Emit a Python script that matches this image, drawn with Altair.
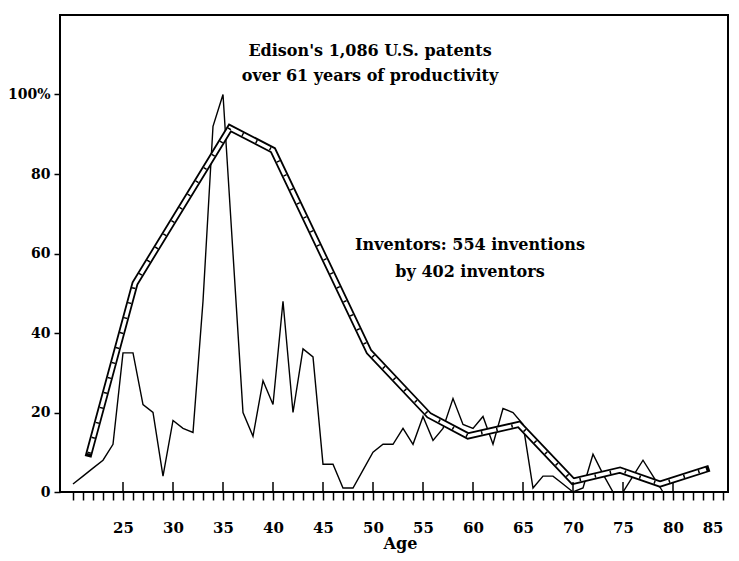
import altair as alt
import pandas as pd

# ---- data ----
inventor_age = list(range(20, 80))
inventor_pct = [2, 4, 6, 8, 12,
                35, 35, 22, 20, 4,
                18, 16, 15, 48, 92,
                100, 60, 20, 14, 28,
                22, 48, 20, 36, 34,
                7, 7, 1, 1, 5.5,
                10, 12, 12, 16, 12,
                19, 13, 16, 23.5, 17,
                16, 19, 12, 21, 20,
                17, 1, 4, 4, 2,
                0, 1, 9.5, 4.5, 0,
                0, 4, 8, 4, 0]

edison_age = [21.6, 26.2, 35.7, 40.0, 49.6, 55.6, 59.5, 64.6, 70.0, 74.7, 78.7, 83.3]
edison_pct = [9.7, 52.5, 91.6, 86.0, 35.3, 19.3, 14.1, 17.0, 2.7, 5.5, 2.0, 5.7]

year_ticks = list(range(20, 86))
major_ticks = list(range(25, 85, 5))
y_ticks = [0, 20, 40, 60, 80, 100]

edison_note = ["Edison's 1,086 U.S. patents", "over 61 years of productivity"]
inventor_note = ["Inventors: 554 inventions", "by 402 inventors"]

W, H = 668, 477
FONT = "DejaVu Serif"

inv = pd.DataFrame({"age": inventor_age, "pct": inventor_pct})
edi = pd.DataFrame({"age": edison_age, "pct": edison_pct})
maj = pd.DataFrame({"age": major_ticks, "pct": [0] * len(major_ticks)})

x_axis = alt.Axis(
    values=year_ticks,
    labelExpr="datum.value % 5 == 0 && datum.value > 20 ? datum.value : ''",
    labelAlign=alt.condition("datum.value == 85", alt.value("right"), alt.value("center")),
    tickSize=8, tickWidth=1.5, tickColor="black",
    domain=False, grid=False,
    labelPadding=20, labelFont=FONT, labelFontSize=15, labelFontWeight="bold",
    labelColor="black", labelOverlap=False, labelFlush=False,
    title="Age", titleFont=FONT, titleFontSize=16, titleFontWeight="bold",
    titleColor="black", titleX=340, titleY=51, titleBaseline="middle",
)
y_axis = alt.Axis(
    values=y_ticks,
    labelExpr="datum.value == 100 ? '100%' : datum.value",
    tickSize=6, tickWidth=1.5, tickColor="black",
    domain=False, grid=False,
    labelPadding=4, labelFont=FONT, labelFontSize=14, labelFontWeight="bold",
    labelColor="black", title=None,
)

X = alt.X("age:Q", scale=alt.Scale(domain=[18.7, 85.5], nice=False, zero=False), axis=x_axis)
Y = alt.Y("pct:Q", scale=alt.Scale(domain=[0, 120], nice=False), axis=y_axis)

inv_line = alt.Chart(inv).mark_line(color="black", strokeWidth=1.4, strokeJoin="miter").encode(x=X, y=Y)

ed_outer = alt.Chart(edi).mark_line(color="black", strokeWidth=7, strokeJoin="miter", strokeCap="square").encode(x=X, y=Y)
ed_inner = alt.Chart(edi).mark_line(color="white", strokeWidth=3.4, strokeJoin="miter", strokeCap="butt").encode(x=X, y=Y)
ed_dash = alt.Chart(edi).mark_line(color="black", strokeWidth=3.4, strokeDash=[1.5, 14], strokeCap="butt").encode(x=X, y=Y)

major = alt.Chart(maj).mark_rule(color="black", strokeWidth=1.5).encode(
    x=X, y=alt.value(H), y2=alt.value(H - 10)
)

ed_text = alt.Chart(pd.DataFrame({"t": ["\n".join(edison_note)]})).mark_text(
    font=FONT, fontSize=16, fontWeight="bold", color="black", lineBreak="\n",
    lineHeight=25, baseline="alphabetic", align="center"
).encode(x=alt.value(310), y=alt.value(41), text="t:N")

inv_text = alt.Chart(pd.DataFrame({"t": ["\n".join(inventor_note)]})).mark_text(
    font=FONT, fontSize=16, fontWeight="bold", color="black", lineBreak="\n",
    lineHeight=27, baseline="alphabetic", align="center"
).encode(x=alt.value(410), y=alt.value(235), text="t:N")

chart = alt.layer(inv_line, ed_outer, ed_inner, ed_dash, major, ed_text, inv_text).properties(
    width=W, height=H,
    padding={"left": 52, "top": 7, "right": 3, "bottom": 64},
    autosize=alt.AutoSizeParams(type="none"),
    background="white",
).configure_view(stroke="black", strokeWidth=2)

chart.save("out.html", embed_options={"renderer": "svg", "actions": False})
